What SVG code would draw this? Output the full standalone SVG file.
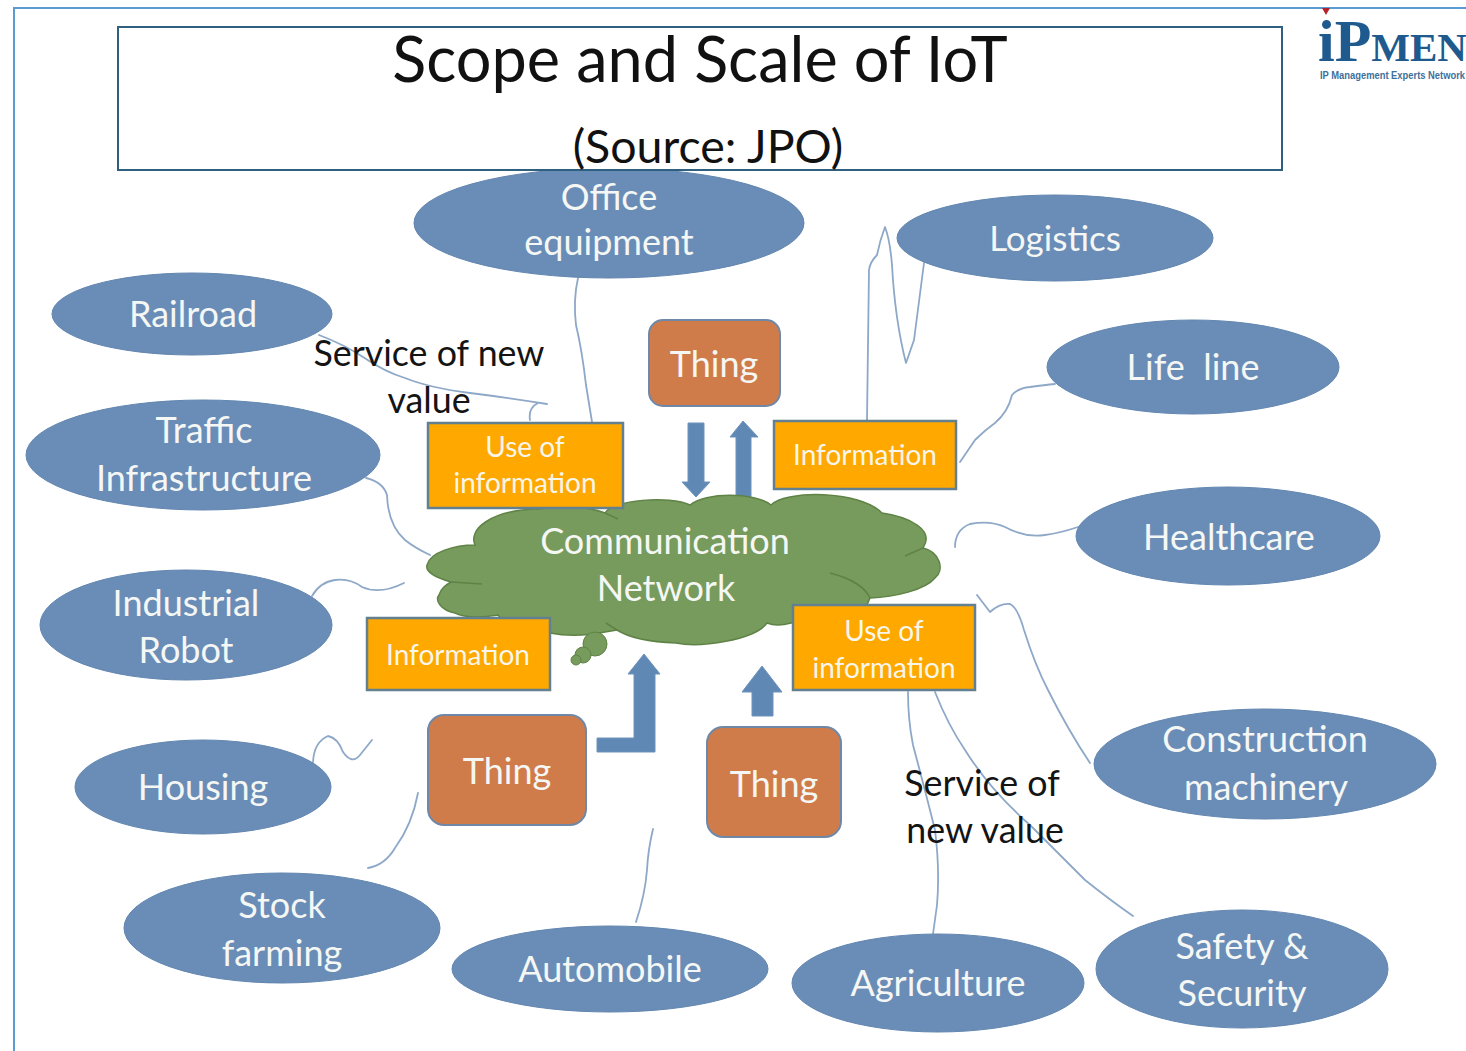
<svg xmlns="http://www.w3.org/2000/svg" width="1466" height="1051" viewBox="0 0 1466 1051">
<style>
text{font-family:"Lato","Carlito","Open Sans",sans-serif;text-anchor:middle}
.e{fill:#6a8db7;stroke:#6286b0;stroke-width:1}
.t{fill:#f5f7f4;font-size:36px}
.d{fill:#141414;font-size:35.8px}
.b{fill:#ffa800;stroke:#62808f;stroke-width:2.5}
.s{fill:#f8f6ea;font-size:28px}
.th{fill:#d07c4a;stroke:#6f88a8;stroke-width:2}
.c{fill:none;stroke:#8ea8c8;stroke-width:1.8;stroke-linejoin:round;stroke-linecap:round}
.a{fill:#5f88b4;stroke:#6f93bb;stroke-width:1}
</style>
<rect width="1466" height="1051" fill="#fff"/>
<path d="M14 1051V8H1466" fill="none" stroke="#5b9bd5" stroke-width="2"/>
<g id="logo">
<path d="M1322 8h8l-4 7z" fill="#b5232a"/>
<text x="1318" y="61" style="text-anchor:start;font-family:'Liberation Serif',serif;font-weight:bold;font-size:60px;fill:#1f5a8f">iP<tspan font-size="41">MEN</tspan></text>
<text x="1320" y="79" style="text-anchor:start;font-family:'Liberation Sans',sans-serif;font-weight:bold;font-size:10px;fill:#3f6f9c" textLength="145" lengthAdjust="spacingAndGlyphs">IP Management Experts Network</text>
</g>
<g id="connectors">
<path class="c" d="M319 335Q345 345 363 357Q385 372 405 378Q430 388 470 393Q510 398 547 404M538 403Q528 408 530 420"/>
<path class="c" d="M578 278Q573 300 576 325Q582 350 586 385L592 422"/>
<path class="c" d="M867 420L869 270Q870 262 877 255Q880 240 885 227Q890 240 892 265Q895 320 906 363L914 340L924 263"/>
<path class="c" d="M960 462L975 440Q985 430 995 423Q1008 412 1012 395Q1018 388 1030 387Q1045 385 1055 384"/>
<path class="c" d="M955 547Q955 530 970 524Q990 520 1005 527Q1025 538 1045 535Q1060 533 1078 527"/>
<path class="c" d="M977 595L990 612Q1000 603 1010 604Q1018 608 1024 630Q1035 665 1048 690Q1068 730 1090 763"/>
<path class="c" d="M908 692Q908 720 913 745Q925 790 935 830Q940 870 937 905L933 934"/>
<path class="c" d="M935 692Q948 725 965 750Q990 790 1030 825Q1065 860 1085 880Q1110 900 1133 916"/>
<path class="c" d="M366 478Q383 482 387 495Q388 525 405 540Q415 548 430 555"/>
<path class="c" d="M312 596Q320 582 335 580Q350 578 362 587Q380 595 404 583"/>
<path class="c" d="M313 762Q314 742 328 736Q338 738 343 752Q352 765 360 755L372 740"/>
<path class="c" d="M368 868Q385 865 395 848Q412 825 418 793"/>
<path class="c" d="M636 922Q645 895 647 870Q648 850 653 829"/>
</g>
<g id="arrows">
<path class="a" d="M688 423H704V482H710L696 497L682 482H688Z"/>
<path class="a" d="M743 421L758 437H751V498H736V437H730Z"/>
<path class="a" d="M597 738H634V674H628L644 654L660 674H655V752H597Z"/>
<path class="a" d="M762 666L782 692H773V716H752V692H742Z"/>
</g>
<g id="cloud">
<path d="M427 565C430 552 455 545 475 545C468 530 490 510 538 509C565 505 590 507 605 513C612 500 670 495 690 505C705 492 755 492 771 505C785 490 860 490 882 513C910 517 935 530 923 548C940 552 945 570 935 578C925 590 895 597 870 598L866 607L791 623C780 626 772 625 767 623C755 640 700 648 676 643C650 642 628 637 617 630L605 632C585 636 565 636 550 633C525 632 505 625 498 615C480 618 465 618 455 613C440 610 435 600 439 595C441 588 446 585 451 582C437 578 425 572 427 565Z" fill="#779b5c" stroke="#5f8246" stroke-width="1.5"/>
<path d="M830 573C850 578 865 587 870 598M905 556L923 548M451 582L482 584M605 513L618 519M617 630L606 623" fill="none" stroke="#5f8246" stroke-width="1.5"/>
<circle cx="595" cy="644" r="12" fill="#779b5c" stroke="#5f8246"/>
<circle cx="583" cy="655" r="8" fill="#779b5c" stroke="#5f8246"/>
<circle cx="576" cy="660" r="5" fill="#779b5c" stroke="#5f8246"/>
<text class="t" x="665" y="554">Communication</text>
<text class="t" x="666" y="601">Network</text>
</g>
<g id="office"><ellipse class="e" cx="609" cy="223" rx="195" ry="55"/></g>
<g id="title">
<rect x="118" y="27" width="1164" height="143" fill="#fff" stroke="#2f6080" stroke-width="2"/>
<text x="700" y="82" style="font-size:63px;fill:#111">Scope and Scale of IoT</text>
<text x="708" y="163" style="font-size:46.5px;fill:#111">(Source: JPO)</text>
</g>
<g id="office-label"><text class="t" x="609" y="210">Office</text><text class="t" x="609" y="255">equipment</text></g>
<g id="logistics"><ellipse class="e" cx="1055" cy="238" rx="158" ry="43"/><text class="t" x="1055" y="251" style="font-size:35px">Logistics</text></g>
<g id="railroad"><ellipse class="e" cx="192" cy="314" rx="140" ry="41"/><text class="t" x="193" y="327">Railroad</text></g>
<g id="lifeline"><ellipse class="e" cx="1193" cy="367" rx="146" ry="47"/><text class="t" x="1193" y="380" xml:space="preserve">Life  line</text></g>
<g id="traffic"><ellipse class="e" cx="203" cy="455" rx="177" ry="55"/><text class="t" x="204" y="443">Traffic</text><text class="t" x="204" y="491">Infrastructure</text></g>
<g id="healthcare"><ellipse class="e" cx="1228" cy="536" rx="152" ry="49"/><text class="t" x="1229" y="550">Healthcare</text></g>
<g id="industrial"><ellipse class="e" cx="186" cy="625" rx="146" ry="55"/><text class="t" x="186" y="616">Industrial</text><text class="t" x="186" y="663">Robot</text></g>
<g id="construction"><ellipse class="e" cx="1265" cy="764" rx="171" ry="55"/><text class="t" x="1265" y="752">Construction</text><text class="t" x="1266" y="800">machinery</text></g>
<g id="housing"><ellipse class="e" cx="203" cy="787" rx="128" ry="47"/><text class="t" x="203" y="800">Housing</text></g>
<g id="stock"><ellipse class="e" cx="282" cy="928" rx="158" ry="55"/><text class="t" x="282" y="918">Stock</text><text class="t" x="282" y="966">farming</text></g>
<g id="automobile"><ellipse class="e" cx="610" cy="969" rx="158" ry="43"/><text class="t" x="610" y="982">Automobile</text></g>
<g id="agriculture"><ellipse class="e" cx="938" cy="983" rx="146" ry="49"/><text class="t" x="938" y="996">Agriculture</text></g>
<g id="safety"><ellipse class="e" cx="1242" cy="969" rx="146" ry="59"/><text class="t" x="1242" y="959">Safety &amp;</text><text class="t" x="1242" y="1006">Security</text></g>
<g id="use1"><rect class="b" x="428" y="423" width="195" height="85"/><text class="s" x="525" y="457">Use of</text><text class="s" x="525" y="493">information</text></g>
<g id="info1"><rect class="b" x="774" y="421" width="182" height="68"/><text class="s" x="865" y="465">Information</text></g>
<g id="info2"><rect class="b" x="367" y="618" width="183" height="72"/><text class="s" x="458" y="665">Information</text></g>
<g id="use2"><rect class="b" x="793" y="605" width="182" height="85"/><text class="s" x="884" y="641">Use of</text><text class="s" x="884" y="678">information</text></g>
<g id="thing1"><rect class="th" x="649" y="320" width="131" height="86" rx="14"/><text class="t" x="714" y="377">Thing</text></g>
<g id="thing2"><rect class="th" x="428" y="715" width="158" height="110" rx="16"/><text class="t" x="507" y="784">Thing</text></g>
<g id="thing3"><rect class="th" x="707" y="727" width="134" height="110" rx="16"/><text class="t" x="774" y="797">Thing</text></g>
<g id="labels">
<text class="d" x="429" y="366">Service of new</text>
<text class="d" x="429" y="413">value</text>
<text class="d" x="982" y="796">Service of</text>
<text class="d" x="985" y="843">new value</text>
</g>
</svg>
